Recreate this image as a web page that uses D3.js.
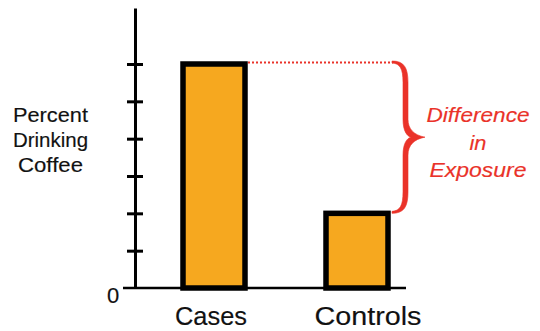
<!DOCTYPE html>
<html><head><meta charset="utf-8">
<script src="https://cdn.jsdelivr.net/npm/d3@7"></script>
<style>html,body{margin:0;padding:0;background:#fff;}svg{display:block;}</style>
</head><body>
<script>
const categories = ["Cases", "Controls"];
const values = [60, 20];            // percent drinking coffee
const tickValues = [10, 20, 30, 40, 50, 60];
const yLabel = ["Percent", "Drinking", "Coffee"];
const noteLines = ["Difference", "in", "Exposure"];

const W = 540, H = 331;
const svg = d3.select("body").append("svg").attr("width", W).attr("height", H);
const font = "'Liberation Sans', Arial, Helvetica, sans-serif";
const red = "#ea3229", orange = "#f6a81f";
const sw = 0.15;

const y = d3.scaleLinear().domain([0, 75]).range([288, 8]);
const x = d3.scalePoint().domain(categories).range([214, 357]);
const barW = 62;
const axisX = 135;

// y axis
const yAxis = d3.axisLeft(y).tickValues(tickValues).tickSize(8).tickSizeOuter(0).tickFormat("");
const ga = svg.append("g").attr("transform", `translate(${axisX},0)`).call(yAxis);
ga.select(".domain").attr("stroke", "#000").attr("stroke-width", 3);
ga.selectAll(".tick line").attr("x1", 8).attr("x2", -8).attr("stroke", "#000").attr("stroke-width", 3);

// baseline
svg.append("line").attr("x1", 123).attr("x2", 406).attr("y1", y(0)).attr("y2", y(0))
  .attr("stroke", "#000").attr("stroke-width", 2.5);

// bars
svg.selectAll("rect.bar").data(categories).join("rect").attr("class", "bar")
  .attr("x", d => x(d) - barW / 2)
  .attr("width", barW)
  .attr("y", (d, i) => y(values[i]))
  .attr("height", (d, i) => y(0) - y(values[i]))
  .attr("fill", orange).attr("stroke", "#000").attr("stroke-width", 5.5);

// dotted line
const yTop = y(values[0]) - 1.5, yBot = y(values[1]) - 1.5;
svg.append("line").attr("x1", x(categories[0]) + barW / 2 + 3).attr("x2", 393)
  .attr("y1", yTop).attr("y2", yTop)
  .attr("stroke", red).attr("stroke-width", 2).attr("stroke-dasharray", "2,2");

// brace (tapered: filled outline)
const ym = (yTop + yBot) / 2;
const bx = 392, bv = 405, tip = 425;
const braceOuter = `M ${bx},${yTop - 1.5} C ${bx + 12},${yTop - 1.5} ${bv + 3},${yTop + 5} ${bv + 3},${yTop + 20}
 L ${bv + 3},${ym - 18} C ${bv + 3},${ym - 8} ${bv + 9},${ym - 2} ${tip},${ym}
 C ${bv + 9},${ym + 2} ${bv + 3},${ym + 8} ${bv + 3},${ym + 18}
 L ${bv + 3},${yBot - 20} C ${bv + 3},${yBot - 5} ${bx + 12},${yBot + 1.5} ${bx},${yBot + 1.5}
 L ${bx},${yBot - 0.5} C ${bx + 8},${yBot - 1} ${bv - 2},${yBot - 6} ${bv - 2},${yBot - 20}
 L ${bv - 2},${ym + 18} C ${bv - 2},${ym + 6} ${bv + 2},${ym + 1} ${bv + 6},${ym}
 C ${bv + 2},${ym - 1} ${bv - 2},${ym - 6} ${bv - 2},${ym - 18}
 L ${bv - 2},${yTop + 20} C ${bv - 2},${yTop + 6} ${bx + 8},${yTop + 1} ${bx},${yTop + 0.5} Z`;
svg.append("path").attr("d", braceOuter).attr("fill", red).attr("stroke", red)
  .attr("stroke-width", 0.6).attr("stroke-linejoin", "round");

// note text
const noteY = [122, 150, 177];
const noteLen = [103, 17, 97];
svg.selectAll("text.note").data(noteLines).join("text").attr("class", "note")
  .attr("x", 478).attr("y", (d, i) => noteY[i])
  .attr("text-anchor", "middle").attr("font-family", font).attr("font-style", "italic")
  .attr("font-size", 20.5).attr("fill", red).attr("stroke", red).attr("stroke-width", sw)
  .attr("textLength", (d, i) => noteLen[i]).attr("lengthAdjust", "spacingAndGlyphs")
  .text(d => d);

// y label
const labY = [122, 147, 172];
const labLen = [75, 75, 65];
svg.selectAll("text.ylab").data(yLabel).join("text").attr("class", "ylab")
  .attr("x", 50.5).attr("y", (d, i) => labY[i])
  .attr("text-anchor", "middle").attr("font-family", font).attr("font-size", 20).attr("fill", "#111")
  .attr("stroke", "#111").attr("stroke-width", sw)
  .attr("textLength", (d, i) => labLen[i]).attr("lengthAdjust", "spacingAndGlyphs")
  .text(d => d);

// category labels
const catLen = [72, 107];
svg.selectAll("text.cat").data(categories).join("text").attr("class", "cat")
  .attr("x", d => x(d) + (d === "Controls" ? 11 : -3)).attr("y", 325)
  .attr("text-anchor", "middle").attr("font-family", font).attr("font-size", 26).attr("fill", "#111")
  .attr("stroke", "#111").attr("stroke-width", sw)
  .attr("textLength", (d, i) => catLen[i]).attr("lengthAdjust", "spacingAndGlyphs")
  .text(d => d);

// zero label
svg.append("text").attr("x", 113).attr("y", 303).attr("text-anchor", "middle")
  .attr("font-family", font).attr("font-size", 22).attr("fill", "#111")
  .attr("stroke", "#111").attr("stroke-width", sw).text("0");
</script>
</body></html>
